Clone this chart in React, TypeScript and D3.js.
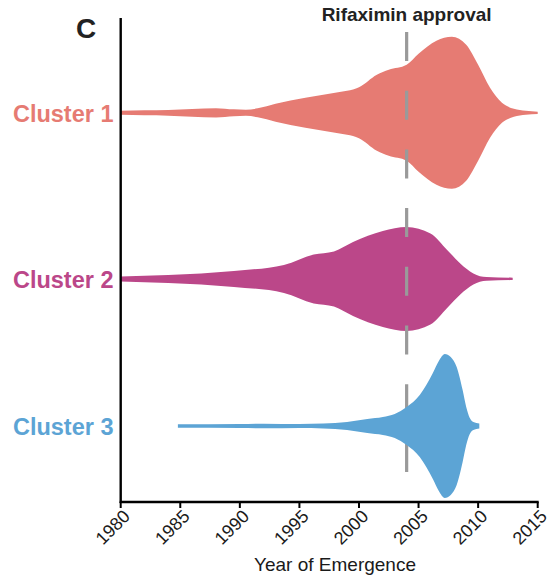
import * as d3 from "d3";
import React from "react";

// clusters, top to bottom
const clusters = ["Cluster 1", "Cluster 2", "Cluster 3"];
const clusterColors = ["#E67B73", "#BB4789", "#5CA4D5"];
const clusterPos = [80.4, 46.1, 15.7];

// violin outlines: year vs. relative density
const c1Years = [1980, 1982, 1984, 1986, 1988, 1989.5, 1990.5, 1991.5, 1993, 1995.5, 1998, 2000, 2001.5, 2002.5, 2004, 2005, 2006.5, 2007.8, 2009, 2010, 2011, 2012, 2013, 2014, 2015];
const c1Density = [2, 2.5, 2.8, 3.8, 4.7, 3.5, 3, 4.5, 9, 15, 20, 25.5, 38, 43, 48, 59, 72, 76, 68, 48, 25, 10, 4, 2, 1.2];

const c2Years = [1980, 1984, 1989.5, 1993.7, 1996.2, 1997.9, 1999.5, 2002, 2004, 2006, 2007.4, 2008.5, 2009.6, 2010.7, 2012.9];
const c2Density = [2.5, 4, 8, 14, 24.5, 27.5, 37, 48, 52, 45.5, 29, 15.5, 5.5, 1.8, 1.2];

const c3Years = [1984.8, 1990, 1992, 1995, 1997, 1999, 2000.7, 2002, 2003, 2004, 2005.1, 2006.2, 2006.7, 2007.2, 2007.7, 2008.2, 2008.7, 2009, 2009.3, 2009.6, 2010.1];
const c3Density = [1.7, 2, 2.3, 2, 2.5, 4, 7, 9, 12, 19, 31, 53, 65, 72, 69, 59, 36, 19, 8, 4, 2.5];

const xTicks = [1980, 1985, 1990, 1995, 2000, 2005, 2010, 2015];
const approvalYear = 2004;

const font = "'Liberation Sans', Arial, Helvetica, sans-serif";

export default function App() {
  const width = 553;
  const height = 580;
  const left = 120.7;
  const right = 537.7;
  const top = 18;
  const bottom = 502;

  const x = d3.scaleLinear().domain([1980, 2015]).range([left, right]);
  const y = d3.scaleLinear().domain([0, 100]).range([bottom, top]);

  const series = [
    d3.zip(c1Years, c1Density),
    d3.zip(c2Years, c2Density),
    d3.zip(c3Years, c3Density),
  ];
  const maxD = d3.max(series.flat(), (d) => d[1]) || 1;
  const w = d3.scaleLinear().domain([0, maxD]).range([0, 76]);

  const violin = (i: number) => {
    const yc = y(clusterPos[i]);
    return (
      d3
        .area<number[]>()
        .x((d) => x(d[0]))
        .y0((d) => yc + w(d[1]))
        .y1((d) => yc - w(d[1]))
        .curve(d3.curveMonotoneX)(series[i]) || ""
    );
  };

  const xa = x(approvalYear);

  return (
    <svg
      width={width}
      height={height}
      style={{ position: "fixed", left: 0, top: 0, background: "#fff" }}
      fontFamily={font}
    >
      {/* clusters 1 and 2 sit under the approval line, cluster 3 above it */}
      {[0, 1].map((i) => (
        <path key={i} d={violin(i)} fill={clusterColors[i]} />
      ))}
      <line
        x1={xa}
        x2={xa}
        y1={32}
        y2={503}
        stroke="#9a9a9a"
        strokeWidth={3.2}
        strokeDasharray="29 29.7"
      />
      <path d={violin(2)} fill={clusterColors[2]} />

      {/* axes */}
      <line x1={left} x2={left} y1={top} y2={bottom + 1} stroke="#000" strokeWidth={2.4} />
      <line x1={left - 1} x2={right + 1} y1={bottom} y2={bottom} stroke="#000" strokeWidth={2.4} />
      {xTicks.map((t) => (
        <g key={t}>
          <line x1={x(t)} x2={x(t)} y1={bottom} y2={bottom + 6} stroke="#000" strokeWidth={2} />
          <text
            transform={`translate(${x(t) + 10.5},${517.5}) rotate(-45)`}
            textAnchor="end"
            fontSize={18}
            fill="#1a1a1a"
          >
            {t}
          </text>
        </g>
      ))}
      <text x={335} y={571} textAnchor="middle" fontSize={19} fill="#1a1a1a">
        Year of Emergence
      </text>

      {clusters.map((c, i) => (
        <text
          key={c}
          x={113.5}
          y={y(clusterPos[i]) + 8.8}
          textAnchor="end"
          fontSize={23.5}
          fontWeight="bold"
          fill={clusterColors[i]}
        >
          {c}
        </text>
      ))}

      <text x={xa} y={21} textAnchor="middle" fontSize={19} fontWeight="bold" fill="#222">
        Rifaximin approval
      </text>
      <text x={76} y={38.3} fontSize={28} fontWeight="bold" fill="#222">
        C
      </text>
    </svg>
  );
}
